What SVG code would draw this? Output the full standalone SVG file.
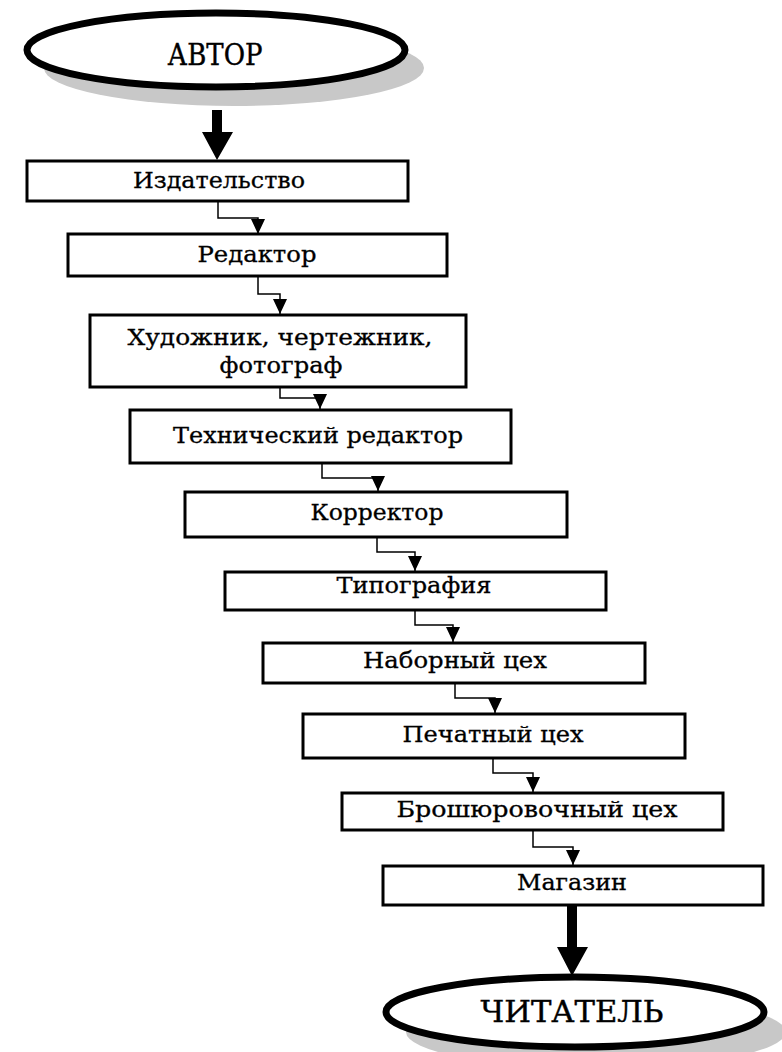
<svg xmlns="http://www.w3.org/2000/svg" width="782" height="1052" viewBox="0 0 782 1052">
<style>
.box{fill:#fff;stroke:#000;stroke-width:3}
.oval{fill:#fff;stroke:#000;stroke-width:7}
.shadow{fill:#c8c8c8}
.t{font-family:"DejaVu Serif","Liberation Serif",serif;font-size:22px;fill:#000;stroke:#000;stroke-width:0.3;text-anchor:middle}
.big{font-family:"DejaVu Serif","Liberation Serif",serif;font-size:29px;fill:#000;stroke:#000;stroke-width:0.4;text-anchor:middle}
.conn{fill:none;stroke:#000;stroke-width:1.5}
.thick{fill:#000}
</style>
<defs>
<marker id="ah" markerUnits="userSpaceOnUse" markerWidth="14" markerHeight="16" viewBox="0 0 14 16" refX="7" refY="15" orient="0">
<path d="M0,0 L14,0 L7,15 Z" fill="#000"/>
</marker>
</defs>
<g id="node-avtor">
<ellipse class="shadow" cx="234" cy="68" rx="190" ry="38"/>
<ellipse class="oval" cx="216" cy="50" rx="189" ry="37"/>
<text class="big" x="215" y="65" textLength="95" lengthAdjust="spacingAndGlyphs">АВТОР</text>
</g>
<g id="node-izdatelstvo">
<rect class="box" x="27" y="161" width="381" height="40"/>
<text class="t" x="219" y="188" textLength="172" lengthAdjust="spacingAndGlyphs">Издательство</text>
</g>
<g id="node-redaktor">
<rect class="box" x="68" y="234" width="379" height="42"/>
<text class="t" x="257" y="262" textLength="119" lengthAdjust="spacingAndGlyphs">Редактор</text>
</g>
<g id="node-khudozhnik">
<rect class="box" x="90" y="315" width="376" height="72"/>
<text class="t" x="280" y="345" textLength="305" lengthAdjust="spacingAndGlyphs">Художник, чертежник,</text>
<text class="t" x="281" y="373" textLength="123" lengthAdjust="spacingAndGlyphs">фотограф</text>
</g>
<g id="node-tekhred">
<rect class="box" x="130" y="410" width="381" height="53"/>
<text class="t" x="318" y="443" textLength="290" lengthAdjust="spacingAndGlyphs">Технический редактор</text>
</g>
<g id="node-korrektor">
<rect class="box" x="185" y="492" width="382" height="45"/>
<text class="t" x="377" y="520" textLength="133" lengthAdjust="spacingAndGlyphs">Корректор</text>
</g>
<g id="node-tipografiya">
<rect class="box" x="225" y="572" width="381" height="38"/>
<text class="t" x="414" y="593" textLength="155" lengthAdjust="spacingAndGlyphs">Типография</text>
</g>
<g id="node-nabornyi">
<rect class="box" x="263" y="643" width="382" height="40"/>
<text class="t" x="455" y="668" textLength="184" lengthAdjust="spacingAndGlyphs">Наборный цех</text>
</g>
<g id="node-pechatnyi">
<rect class="box" x="303" y="714" width="382" height="44"/>
<text class="t" x="493" y="742" textLength="181" lengthAdjust="spacingAndGlyphs">Печатный цех</text>
</g>
<g id="node-broshyur">
<rect class="box" x="342" y="793" width="381" height="37"/>
<text class="t" x="537" y="817" textLength="281" lengthAdjust="spacingAndGlyphs">Брошюровочный цех</text>
</g>
<g id="node-magazin">
<rect class="box" x="383" y="866" width="380" height="39"/>
<text class="t" x="572" y="890" textLength="110" lengthAdjust="spacingAndGlyphs">Магазин</text>
</g>
<g id="node-chitatel">
<ellipse class="shadow" cx="596" cy="1032" rx="190" ry="36"/>
<ellipse class="oval" cx="575" cy="1012" rx="189" ry="35"/>
<text class="big" x="572" y="1022" textLength="183" lengthAdjust="spacingAndGlyphs">ЧИТАТЕЛЬ</text>
</g>
<g id="connectors">
<path class="thick" d="M212,110 H222 V132 H233 L217,160 L202,132 H212 Z"/>
<path class="conn" marker-end="url(#ah)" d="M218,201 V218 H258 V234"/>
<path class="conn" marker-end="url(#ah)" d="M258,276 V294 H280 V314"/>
<path class="conn" marker-end="url(#ah)" d="M280,387 V398 H320 V409"/>
<path class="conn" marker-end="url(#ah)" d="M322,463 V478 H378 V491"/>
<path class="conn" marker-end="url(#ah)" d="M377,537 V552 H415 V571"/>
<path class="conn" marker-end="url(#ah)" d="M415,610 V625 H453 V642"/>
<path class="conn" marker-end="url(#ah)" d="M455,683 V698 H495 V713"/>
<path class="conn" marker-end="url(#ah)" d="M493,758 V773 H533 V792"/>
<path class="conn" marker-end="url(#ah)" d="M533,830 V847 H573 V865"/>
<path class="thick" d="M567,905 H577 V947 H588 L572,976 L557,947 H567 Z"/>
</g>
</svg>
